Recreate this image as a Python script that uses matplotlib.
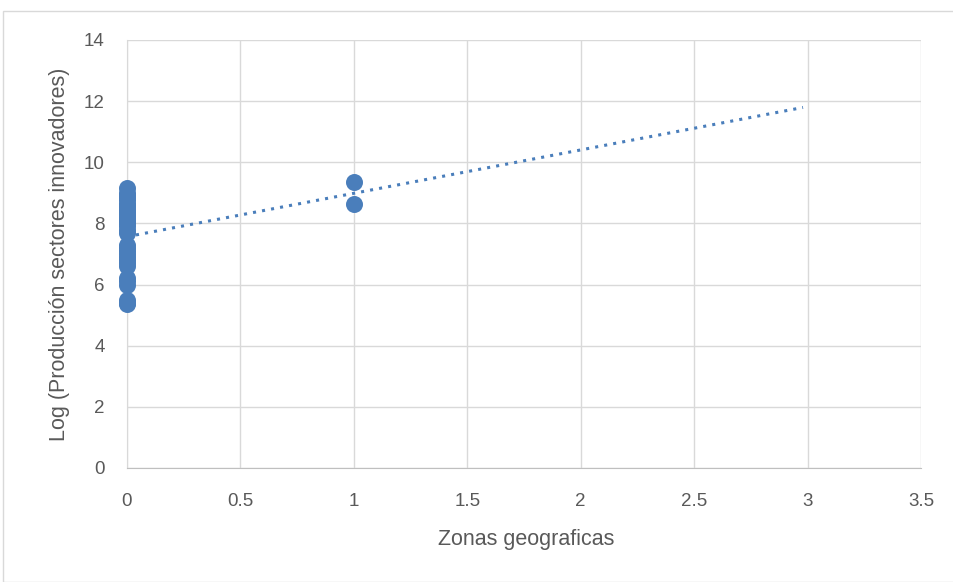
import numpy as np
import matplotlib.pyplot as plt
from matplotlib.patches import Rectangle

# zone 0 and zone 1 observations (log of innovative sector output)
zona_0 = [9.15, 9.0, 8.9, 8.85, 8.75, 8.65, 8.6, 8.55, 8.45, 8.35, 8.3, 8.25,
          8.2, 8.1, 8.05, 8.0, 7.9, 7.8, 7.7, 7.3, 7.2, 7.1, 7.0, 6.9, 6.8,
          6.7, 6.6, 6.2, 6.1, 6.0, 5.5, 5.4, 5.35]
zona_1 = [9.35, 8.62]

x = np.array([0] * len(zona_0) + [1] * len(zona_1), dtype=float)
y = np.array(zona_0 + zona_1)

plt.rcParams['font.family'] = ['Liberation Sans', 'DejaVu Sans']
color = '#4a7ebb'
text_c = '#595959'

fig = plt.figure(figsize=(9.54, 5.82), dpi=100)
ax = fig.add_axes([0.1331, 0.1959, 0.8323, 0.7354])

# chart border
fig.patches.append(Rectangle((3 / 954, 0), 1, 1 - 11 / 582, transform=fig.transFigure,
                             fill=False, edgecolor='#d9d9d9', lw=1))

ax.scatter(x, y, s=150, color=color, zorder=3, linewidths=0, clip_on=False)

# linear trend, forecast forward to x=3
m, b = np.polyfit(x, y, 1)
xt = np.array([0, 2.98])
ax.plot(xt, m * xt + b, linestyle=(0, (1, 2)), color=color, lw=2.2, zorder=4)

ax.set_xlim(0, 3.5)
ax.set_ylim(0, 14)
ax.set_xticks(np.arange(0, 3.51, 0.5))
ax.set_xticklabels(['0', '0.5', '1', '1.5', '2', '2.5', '3', '3.5'])
ax.set_yticks(range(0, 15, 2))
ax.grid(True, color='#d9d9d9', lw=1)
ax.set_axisbelow(True)
for s in ['top', 'right']:
    ax.spines[s].set_visible(False)
ax.spines['left'].set_color('#d9d9d9')
ax.spines['bottom'].set_color('#bfbfbf')
ax.tick_params(length=0, labelsize=13.5, colors=text_c)
ax.tick_params(axis='y', pad=16)
ax.tick_params(axis='x', pad=18)

ax.set_xlabel('Zonas geograficas', fontsize=15.5, color=text_c)
ax.set_ylabel('Log (Producción sectores innovadores)', fontsize=15.5, color=text_c)
ax.xaxis.set_label_coords(0.5025, -0.168)
ax.yaxis.set_label_coords(-0.0844, 0.5)
ax.xaxis.label.set_va('center')
ax.yaxis.label.set_va('center')

fig.savefig('out.png', dpi=100)
